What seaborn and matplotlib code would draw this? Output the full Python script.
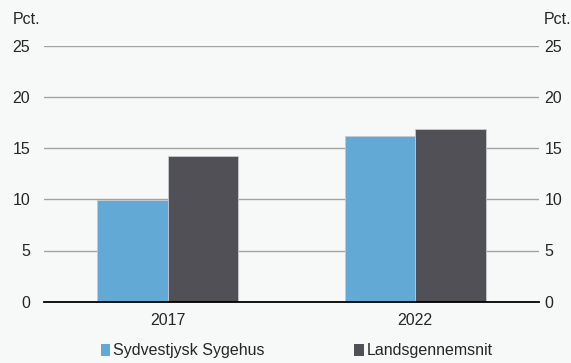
import matplotlib
matplotlib.use("Agg")
import matplotlib.pyplot as plt
import seaborn as sns
import pandas as pd
from matplotlib.patches import Patch

years = ["2017", "2022"]
series = ["Sydvestjysk Sygehus", "Landsgennemsnit"]
sydvestjysk = [9.9, 16.2]
landsgennemsnit = [14.2, 16.9]
colors = ["#63a9d6", "#505056"]
yticks = [0, 5, 10, 15, 20, 25]

df = pd.DataFrame({
    "year": years * 2,
    "series": [series[0]] * len(years) + [series[1]] * len(years),
    "value": sydvestjysk + landsgennemsnit,
})

sns.set_style("white")
plt.rcParams["font.family"] = ["Liberation Sans", "DejaVu Sans"]
bg = "#f7f8f8"
fs = 11.5

fig = plt.figure(figsize=(5.71, 3.63), dpi=100, facecolor=bg)
ax = fig.add_axes([44 / 571, 1 - 301.7 / 363, (539 - 44) / 571, (301.7 - 45.7) / 363])
ax.set_facecolor(bg)

sns.barplot(data=df, x="year", y="value", hue="series", order=years,
            hue_order=series, palette=colors, width=0.57, saturation=1,
            edgecolor="#c8cacc", linewidth=0.6, ax=ax, legend=False, zorder=3)

ax.set_xlim(-0.5, len(years) - 0.5)
ax.set_ylim(0, 25)
ax.set_yticks(yticks)
ax.set_yticklabels([str(t) for t in yticks])
for t in yticks[1:]:
    ax.axhline(t, color="#a3a3a3", linewidth=1.0, zorder=1)

for side in ["top", "left", "right"]:
    ax.spines[side].set_visible(False)
ax.spines["bottom"].set_color("black")
ax.spines["bottom"].set_linewidth(1.3)
ax.spines["bottom"].set_zorder(4)

ax.set_xticks(range(len(years)))
ax.set_xticklabels(years)
ax.set_xticks([-0.5, 0.5, 1.5], minor=True)
ax.tick_params(axis="x", which="major", length=0, pad=8, labelsize=fs)
ax.tick_params(axis="x", which="minor", length=5, width=1.3, color="black", direction="out")
ax.tick_params(axis="y", length=0, labelsize=fs, pad=10)
ax.set_xlabel("")
ax.set_ylabel("")

# Mirrored value axis on the right
rax = ax.twinx()
rax.set_ylim(0, 25)
rax.set_yticks(yticks)
rax.set_yticklabels([str(t) for t in yticks])
rax.tick_params(axis="y", length=0, labelsize=fs, pad=4)
for side in rax.spines:
    rax.spines[side].set_visible(False)

fig.text(13 / 571, 1 - 20 / 363, "Pct.", fontsize=fs, ha="left", va="center")
fig.text(544 / 571, 1 - 20 / 363, "Pct.", fontsize=fs, ha="left", va="center")

handles = [Patch(facecolor=c, edgecolor="none") for c in colors]
fig.legend(handles, series, loc="center", bbox_to_anchor=(0.52, 1 - 351 / 363),
           ncol=2, frameon=False, fontsize=fs, handlelength=0.6,
           handleheight=0.75, handletextpad=0.2, columnspacing=5.6)

fig.savefig("out.png", dpi=100, facecolor=bg)
